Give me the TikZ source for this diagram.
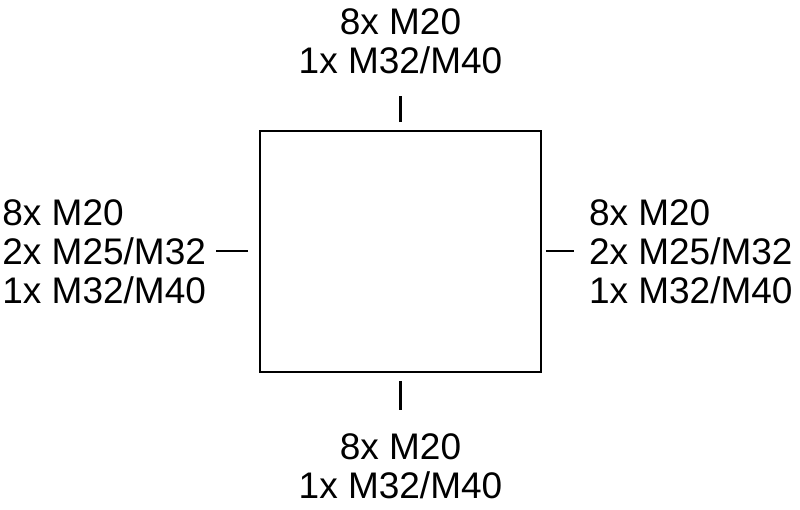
\documentclass[tikz,border=0pt]{standalone}
\usepackage{fontspec}
\setmainfont{Liberation Sans}
\usepackage{tikz}
\usetikzlibrary{positioning}

\begin{document}
\begin{tikzpicture}[x=1pt, y=-1pt, node distance=20pt]
    % Define styles
    \tikzstyle{housing} = [rectangle, draw, line width=1.6pt, minimum width=281pt, minimum height=241pt, inner sep=0pt]
    \tikzstyle{entry} = [inner sep=0pt, font=\fontsize{37}{39}\selectfont]
    \tikzstyle{entrymark} = [line width=2.2pt]

    \useasboundingbox (0,0) rectangle (800,510);

    % Housing
    \node [housing] (box) at (400.5,251.5) {};

    % Entry marks
    \coordinate [above=8pt of box.north] (topin);
    \coordinate [above=26pt of topin] (topout);
    \coordinate [below=8pt of box.south] (botin);
    \coordinate [below=29pt of botin] (botout);
    \coordinate [left=11pt of box.west] (leftin);
    \coordinate [left=32pt of leftin] (leftout);
    \coordinate [right=4pt of box.east] (rightin);
    \coordinate [right=28pt of rightin] (rightout);

    \draw [entrymark] (topin) -- (topout);
    \draw [entrymark] (botin) -- (botout);
    \draw [entrymark, line width=2pt] (leftin) -- (leftout);
    \draw [entrymark, line width=2pt] (rightin) -- (rightout);

    % Cable entries
    \node [entry, align=center, above=22pt of topout] (toptext) {8x M20\\1x M32/M40};
    \node [entry, align=center, below=24pt of botout] (bottext) {8x M20\\1x M32/M40};
    \node [entry, align=left, left=10pt of leftout] (lefttext) {8x M20\\2x M25/M32\\1x M32/M40};
    \node [entry, align=left, right=15pt of rightout] (righttext) {8x M20\\2x M25/M32\\1x M32/M40};
\end{tikzpicture}
\end{document}
